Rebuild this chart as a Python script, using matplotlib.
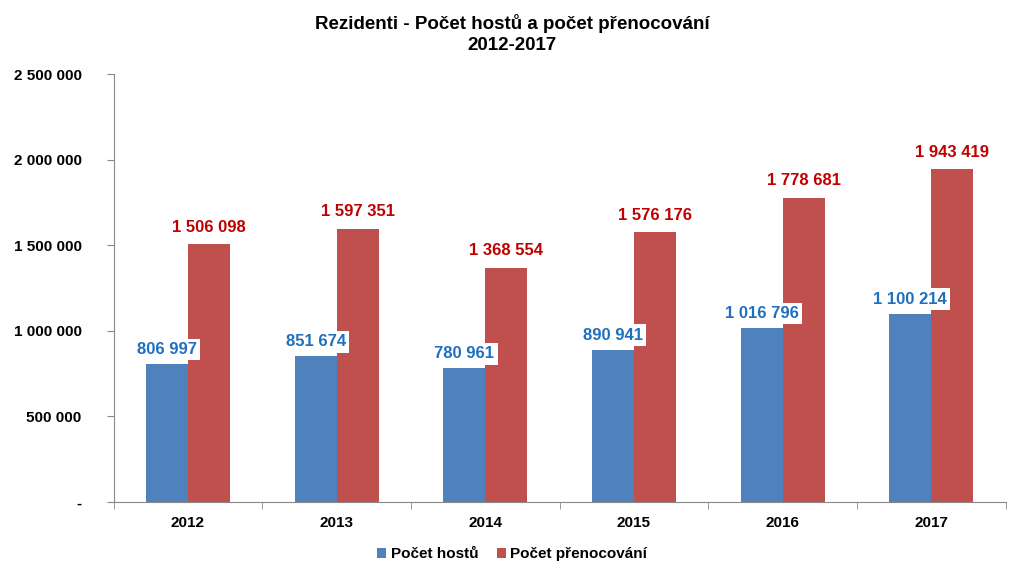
import numpy as np
import matplotlib.pyplot as plt
from matplotlib.ticker import FuncFormatter, FixedLocator

plt.rcParams['font.family'] = ['Liberation Sans', 'DejaVu Sans']

years = ['2012', '2013', '2014', '2015', '2016', '2017']
hoste = [806997, 851674, 780961, 890941, 1016796, 1100214]
prenocovani = [1506098, 1597351, 1368554, 1576176, 1778681, 1943419]
series_names = ['Počet hostů', 'Počet přenocování']

fig = plt.figure(figsize=(10.24, 5.75), dpi=100)
ax = fig.add_axes([0.111, 0.127, 0.871, 0.744])

x = np.arange(len(years))
w = 0.283
b1 = ax.bar(x - w / 2, hoste, w, color='#4F81BD', label=series_names[0])
b2 = ax.bar(x + w / 2, prenocovani, w, color='#C0504D', label=series_names[1])


def fmt(v):
    return '{:,}'.format(int(v)).replace(',', ' ')


for xi, v in zip(x, hoste):
    ax.annotate(fmt(v), (xi - w / 2, v), xytext=(0, 5), textcoords='offset points',
                ha='center', va='bottom', fontsize=12, fontweight='bold', color='#1F6FBF',
                bbox=dict(boxstyle='square,pad=0.2', fc='white', ec='none'))
for xi, v in zip(x, prenocovani):
    ax.annotate(fmt(v), (xi + w / 2, v), xytext=(0, 7), textcoords='offset points',
                ha='center', va='bottom', fontsize=12, fontweight='bold', color='#C00000')

ax.set_xlim(-0.5, len(years) - 0.5)
ax.set_ylim(0, 2500000)
ax.set_yticks(np.arange(0, 2500001, 500000))
ax.yaxis.set_major_formatter(FuncFormatter(lambda v, p: '-' if v == 0 else fmt(v)))
ax.set_xticks(x)
ax.set_xticklabels(years)
ax.xaxis.set_minor_locator(FixedLocator(np.arange(-0.5, len(years), 1)))
ax.tick_params(axis='x', which='major', length=0, pad=10)
ax.tick_params(axis='x', which='minor', length=5, color='#888888')
ax.tick_params(axis='y', length=5, color='#888888', pad=18)
for lab in ax.get_xticklabels() + ax.get_yticklabels():
    lab.set_fontsize(11)
    lab.set_fontweight('bold')

for s in ['top', 'right']:
    ax.spines[s].set_visible(False)
for s in ['left', 'bottom']:
    ax.spines[s].set_color('#888888')

fig.suptitle('Rezidenti - Počet hostů a počet přenocování\n2012-2017', y=0.975,
             fontsize=13.5, fontweight='bold', linespacing=1.3)

leg = fig.legend(loc='lower center', bbox_to_anchor=(0.5, 0.0), ncol=2, frameon=False,
                 prop={'weight': 'bold', 'size': 11}, handlelength=0.6, handleheight=0.6,
                 handletextpad=0.3, columnspacing=1.2)

fig.savefig('out.png', dpi=100)
